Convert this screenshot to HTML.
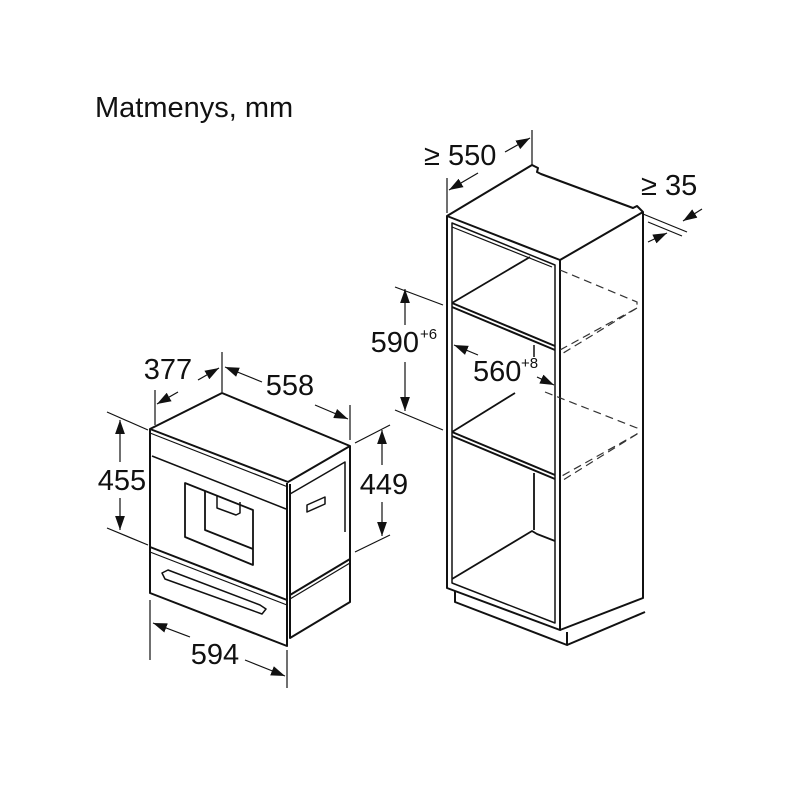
<!DOCTYPE html>
<html><head><meta charset="utf-8"><style>
html,body{margin:0;padding:0;background:#fff}
svg{display:block}
text{font-family:"Liberation Sans",Arial,sans-serif;fill:#111}
</style></head><body>
<svg width="800" height="800" viewBox="0 0 800 800" xmlns="http://www.w3.org/2000/svg">
<defs>
<marker id="a" viewBox="0 0 10 10" refX="10" refY="5" markerWidth="14" markerHeight="14" orient="auto-start-reverse" markerUnits="userSpaceOnUse"><path d="M0,1.5 L10,5 L0,8.5 z" fill="#111"/></marker>
</defs>
<text x="95" y="117" font-size="29">Matmenys, mm</text>

<!-- Appliance -->
<g fill="none" stroke="#111" stroke-width="2" stroke-linejoin="round">
<path d="M150,429 L222,393 L350,446 L288,482 Z" fill="#fff"/>
<path d="M150,429 L150,593 L287,646 L287,483"/>
<path d="M290,484 L290,638 L350,602 L350,446"/>
<path d="M150,433 L288,487" stroke-width="1.2"/>
<path d="M152,456 L286,509" stroke-width="1.5"/>
<path d="M150,547 L287,600"/>
<path d="M150,552 L287,605" stroke-width="1.2"/>
<path d="M290,595 L350,559"/>
<path d="M290,599 L350,563" stroke-width="1.2"/>
<path d="M290,494 L345,462 L345,532" stroke-width="1.5"/>
<path d="M185,483 L253,510 L253,565 L185,537 Z" stroke-width="1.8"/>
<path d="M205,491 L205,530 L253,549" stroke-width="1.8"/>
<path d="M217,496 L217,508 L236,515 L240,513 L240,502" stroke-width="1.5"/>
<path d="M162,573 L165,579 L262,614 L266,609 L260,605 L168,570 Z" stroke-width="1.5"/>
<path d="M307,505 L307,512 L325,504 L325,497 Z" stroke-width="1.5"/>
</g>
<!-- appliance dims -->
<g stroke="#111" stroke-width="1.2" fill="none">
<line x1="155" y1="390" x2="155" y2="425"/><line x1="222" y1="352" x2="222" y2="392"/>
<line x1="178" y1="392" x2="157" y2="404" marker-end="url(#a)"/><line x1="198" y1="380" x2="219" y2="368" marker-end="url(#a)"/>
<line x1="350" y1="405" x2="350" y2="440"/>
<line x1="262" y1="382" x2="225" y2="367" marker-end="url(#a)"/><line x1="315" y1="405" x2="348" y2="419" marker-end="url(#a)"/>
<line x1="107" y1="412" x2="148" y2="430"/><line x1="107" y1="528" x2="148" y2="545"/>
<line x1="120" y1="462" x2="120" y2="420" marker-end="url(#a)"/><line x1="120" y1="498" x2="120" y2="530" marker-end="url(#a)"/>
<line x1="355" y1="443" x2="390" y2="425"/><line x1="355" y1="552" x2="390" y2="535"/>
<line x1="382" y1="465" x2="382" y2="430" marker-end="url(#a)"/><line x1="382" y1="502" x2="382" y2="536" marker-end="url(#a)"/>
<line x1="150" y1="600" x2="150" y2="660"/><line x1="287" y1="650" x2="287" y2="688"/>
<line x1="190" y1="637" x2="153" y2="623" marker-end="url(#a)"/><line x1="245" y1="660" x2="285" y2="676" marker-end="url(#a)"/>
</g>
<g font-size="29" text-anchor="middle">
<text x="168" y="379">377</text>
<text x="290" y="395">558</text>
<text x="122" y="490">455</text>
<text x="384" y="494">449</text>
<text x="215" y="664">594</text>
</g>

<!-- Cabinet -->
<g fill="none" stroke="#111" stroke-width="2" stroke-linejoin="round">
<path d="M447,216 L532,165 L538,168 L537,172 L541,174 L633,208 L637,206 L643,212 L560,260 Z"/>
<path d="M447,216 L447,588 L560,630 L560,260"/>
<path d="M643,212 L643,598 L560,630"/>
<path d="M455,591 L455,602 L567,645 L567,632"/>
<path d="M567,645 L645,612" />
<path d="M452,223 L452,583 L555,623 L555,265 Z" stroke-width="1.5"/>
<path d="M452,227 L552,267" stroke-width="1.2"/>
<path d="M452,303 L555,346 M452,307 L555,350"/>
<path d="M452,432 L555,475 M452,436 L555,479"/>
<path d="M452,303 L530,257" stroke-width="1.8"/>
<path d="M452,432 L515,393" stroke-width="1.8"/>
<path d="M452,579 L532,531 L537,534 L555,541" stroke-width="1.8"/>
<path d="M534,473 L534,530" stroke-width="1.8"/>
<path d="M534,345 L534,357" stroke-width="1.5"/>
</g>
<g fill="none" stroke="#333" stroke-width="1.2" stroke-dasharray="8,5">
<path d="M560,270 L637,302 L637,308 L560,350"/>
<path d="M637,308 L560,355"/>
<path d="M545,392 L637,428 L637,434 L560,477"/>
<path d="M637,434 L560,482"/>
</g>
<!-- cabinet dims -->
<g stroke="#111" stroke-width="1.2" fill="none">
<line x1="447" y1="178" x2="447" y2="213"/><line x1="532" y1="130" x2="532" y2="165"/>
<line x1="478" y1="173" x2="449" y2="190" marker-end="url(#a)"/><line x1="505" y1="152" x2="530" y2="138" marker-end="url(#a)"/>
<line x1="643" y1="214" x2="687" y2="232"/><line x1="648" y1="222" x2="682" y2="236"/>
<line x1="702" y1="209" x2="683" y2="221" marker-end="url(#a)"/><line x1="648" y1="242" x2="667" y2="233" marker-end="url(#a)"/>
<line x1="395" y1="287" x2="443" y2="305"/><line x1="395" y1="410" x2="443" y2="430"/>
<line x1="405" y1="325" x2="405" y2="289" marker-end="url(#a)"/><line x1="405" y1="362" x2="405" y2="411" marker-end="url(#a)"/>
<line x1="478" y1="355" x2="454" y2="345" marker-end="url(#a)"/><line x1="537" y1="377" x2="554" y2="385" marker-end="url(#a)"/>
</g>
<g font-size="29">
<text x="424" y="165">≥ 550</text>
<text x="641" y="195">≥ 35</text>
<text x="419" y="352" text-anchor="end">590</text>
<text x="473" y="381">560</text>
</g>
<g font-size="15">
<text x="420" y="339">+6</text>
<text x="521" y="368">+8</text>
</g>
</svg>
</body></html>
